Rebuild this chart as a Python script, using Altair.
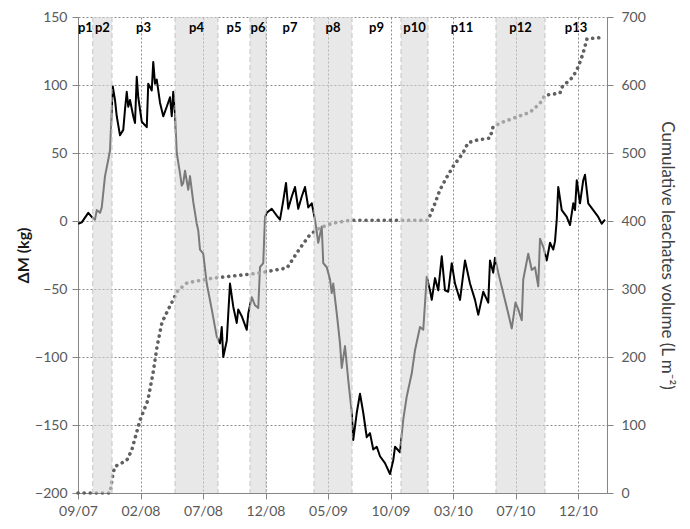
import altair as alt
import pandas as pd

# ---- axis ticks (months since 09/2007) ----
tick_months = [0, 5, 10, 15, 20, 25, 30, 35, 40]
tick_labels = ['09/07', '02/08', '07/08', '12/08', '05/09', '10/09', '03/10', '07/10', '12/10']

# ---- periods ----
period_names = ['p1', 'p2', 'p3', 'p4', 'p5', 'p6', 'p7', 'p8', 'p9', 'p10', 'p11', 'p12', 'p13']
period_start = [0, 1.18, 2.72, 7.76, 11.2, 13.76, 15.04, 18.88, 21.92, 25.84, 28.0, 33.44, 37.36]
period_end = [1.18, 2.72, 7.76, 11.2, 13.76, 15.04, 18.88, 21.92, 25.84, 28.0, 33.44, 37.36, 42.32]
period_shaded = [False, True, False, True, False, True, False, True, False, True, False, True, False]

# ---- Delta M (kg) ----
dm_month = [0.02, 0.30, 0.82, 1.10, 1.36, 1.50, 1.76, 1.90, 2.16, 2.42, 2.56, 2.70, 2.78, 2.96, 3.10,
            3.36, 3.62, 3.76, 3.90, 4.02, 4.16, 4.42, 4.56, 4.70, 4.82, 5.10, 5.50, 5.62, 5.90, 6.02,
            6.16, 6.30, 6.56, 6.82, 7.10, 7.36, 7.50, 7.62, 7.76, 7.90, 8.16, 8.30, 8.42, 8.56, 8.82,
            8.96, 9.22, 9.50, 9.62, 9.76, 10.02, 10.30, 10.70, 11.10, 11.36, 11.50, 11.62, 11.90, 12.16,
            12.42, 12.70, 12.82, 13.10, 13.50, 13.62, 13.90, 14.16, 14.42, 14.56, 14.82, 14.96, 15.10,
            15.50, 15.90, 16.16, 16.42, 16.64, 16.82, 17.10, 17.36, 17.62, 17.90, 18.16, 18.42, 18.70,
            18.96, 19.22, 19.50, 19.62, 19.90, 20.16, 20.30, 20.42, 20.70, 20.96, 21.10, 21.36, 21.62,
            21.90, 22.02, 22.30, 22.56, 22.82, 23.10, 23.36, 23.62, 23.90, 24.16, 24.56, 24.96, 25.22,
            25.36, 25.76, 26.02, 26.30, 26.70, 26.96, 27.36, 27.62, 27.90, 28.16, 28.30, 28.56, 28.82,
            29.10, 29.36, 29.62, 29.90, 30.16, 30.56, 30.96, 31.36, 31.76, 32.02, 32.42, 32.82, 32.96,
            33.22, 33.36, 33.62, 34.02, 34.42, 34.70, 35.00, 35.22, 35.50, 35.62, 36.02, 36.30, 36.56,
            36.82, 36.96, 37.22, 37.50, 37.76, 38.02, 38.16, 38.30, 38.42, 38.70, 39.10, 39.36, 39.62,
            39.76, 39.90, 40.16, 40.42, 40.56, 40.82, 41.22, 41.62, 41.90, 42.16]
dm_kg = [-2, -1, 6, 3, 1, 8, 6, 10, 33, 45, 52, 82, 99, 89, 77,
         63, 67, 82, 95, 84, 89, 77, 72, 106, 91, 73, 69, 101, 96, 117,
         101, 104, 87, 77, 84, 91, 77, 95, 79, 50, 35, 26, 28, 37, 23,
         33, 14, -2, -7, -21, -24, -46, -65, -85, -90, -78, -100, -88, -46,
         -63, -75, -65, -70, -80, -68, -56, -62, -64, -34, -31, 3, 6,
         9, 4, 1, 15, 28, 9, 18, 25, 9, 18, 25, 10, 13,
         1, -16, -4, -31, -34, -43, -53, -46, -68, -90, -108, -92, -117,
         -141, -161, -141, -127, -141, -159, -156, -168, -166, -173, -178, -186, -176,
         -166, -170, -146, -129, -112, -95, -78, -80, -41, -51, -58, -42, -51,
         -26, -51, -52, -31, -46, -58, -29, -46, -58, -69, -52, -60, -29,
         -38, -27, -38, -53, -68, -79, -60, -65, -73, -43, -24, -36, -34,
         -48, -13, -19, -29, -16, -21, -15, 1, 25, 8, 3, -3, 13,
         8, 30, 13, 30, 34, 13, 8, 3, -2, 1]

# ---- cumulative leachates volume (L m-2) ----
cum_month = [0, 2.56, 2.80, 2.96, 3.90, 4.30, 4.96, 5.60, 6.00, 6.32, 6.72, 7.36, 8.00, 8.72,
             10.80, 14.32, 16.72, 17.76, 18.56, 19.36, 20.40, 21.76, 28.00, 28.56, 28.96, 29.52,
             30.00, 30.80, 31.20, 31.92, 32.96, 33.20, 33.76, 35.12, 36.16, 36.96, 37.36, 38.56,
             38.72, 39.60, 40.00, 40.40, 40.72, 42.00]
cum_vol = [0, 0, 29, 39, 48, 63, 107, 137, 176, 215, 251, 275, 298, 309,
           316, 323, 331, 360, 380, 390, 397, 401, 401, 426, 446, 465,
           480, 500, 515, 519, 522, 538, 544, 553, 560, 573, 585, 588,
           597, 612, 626, 646, 668, 670]

FONT = 'Lato'
XMAX = period_end[-1]

# ---- tables ----
bands = pd.DataFrame({'name': period_names, 'start': period_start, 'end': period_end,
                      'shaded': period_shaded})
bands['mid'] = (bands['start'] + bands['end']) / 2
shaded = bands[bands['shaded']]
bounds = pd.DataFrame({'b': period_end[:-1]})
dm = pd.DataFrame({'month': dm_month, 'kg': dm_kg})
cum = pd.DataFrame({'month': cum_month, 'vol': cum_vol})

label_arr = '[' + ','.join("'%s'" % t for t in tick_labels) + ']'

xscale = alt.Scale(domain=[0, XMAX], nice=False, zero=False)
xaxis = alt.Axis(values=tick_months, labelExpr=label_arr + '[round(datum.value/5)]',
                 title=None, grid=True, gridColor='#8a8a8a', gridDash=[2, 2], gridWidth=1,
                 domainColor='#868686', tickColor='#868686', tickSize=6, labelFlush=False,
                 labelFont=FONT, labelFontSize=14, labelColor='#595959', labelPadding=5)

dm_layer = alt.Chart(dm).mark_line(strokeWidth=2, strokeJoin='round', color='#000000').encode(
    x=alt.X('month:Q', scale=xscale, axis=xaxis),
    y=alt.Y('kg:Q', scale=alt.Scale(domain=[-200, 150], nice=False),
            axis=alt.Axis(values=list(range(-200, 151, 50)), title='ΔM (kg)',
                          grid=True, gridColor='#8a8a8a', gridDash=[2, 2],
                          domainColor='#868686', tickColor='#868686', tickSize=6, labelFlush=False,
                          labelFont=FONT, labelFontSize=14, labelColor='#595959', labelPadding=5,
                          titleFont=FONT, titleFontSize=16, titleFontWeight='bold',
                          titleColor='#1a1a1a', titlePadding=3)),
    order='month:Q'
)

cum_layer = alt.Chart(cum).mark_line(color='#606060', strokeWidth=3.6, strokeCap='round',
                                     strokeDash=[0.1, 6]).encode(
    x=alt.X('month:Q', scale=xscale),
    y=alt.Y('vol:Q', scale=alt.Scale(domain=[0, 700], nice=False),
            axis=alt.Axis(orient='right', values=list(range(0, 701, 100)),
                          title='Cumulative leachates volume (L m⁻²)', grid=False,
                          domainColor='#868686', tickColor='#868686', tickSize=6, labelFlush=False,
                          labelFont=FONT, labelFontSize=14, labelColor='#595959', labelPadding=8,
                          titleFont=FONT, titleFontSize=17, titleFontWeight='normal',
                          titleColor='#404040', titlePadding=12))
)

band_layer = alt.Chart(shaded).mark_rect(color='#d6d6d6', opacity=0.57).encode(
    x=alt.X('start:Q', scale=xscale),
    x2='end:Q'
)

bound_layer = alt.Chart(bounds).mark_rule(color='#c4c4c4', strokeDash=[5, 3], strokeWidth=1).encode(
    x=alt.X('b:Q', scale=xscale)
)

label_layer = alt.Chart(bands).mark_text(font=FONT, fontSize=13, fontWeight='bold',
                                         color='#000000', baseline='middle').encode(
    x=alt.X('mid:Q', scale=xscale),
    y=alt.value(11),
    text='name:N'
)

chart = alt.layer(dm_layer, cum_layer, band_layer, bound_layer, label_layer).resolve_scale(
    y='independent'
).properties(
    width=529, height=476,
    autosize=alt.AutoSizeParams(type='none'),
    padding={'left': 70, 'top': 9, 'right': 75, 'bottom': 28}
).configure_view(stroke=None)

chart.save('out.html', embed_options={'renderer': 'svg', 'actions': False})
